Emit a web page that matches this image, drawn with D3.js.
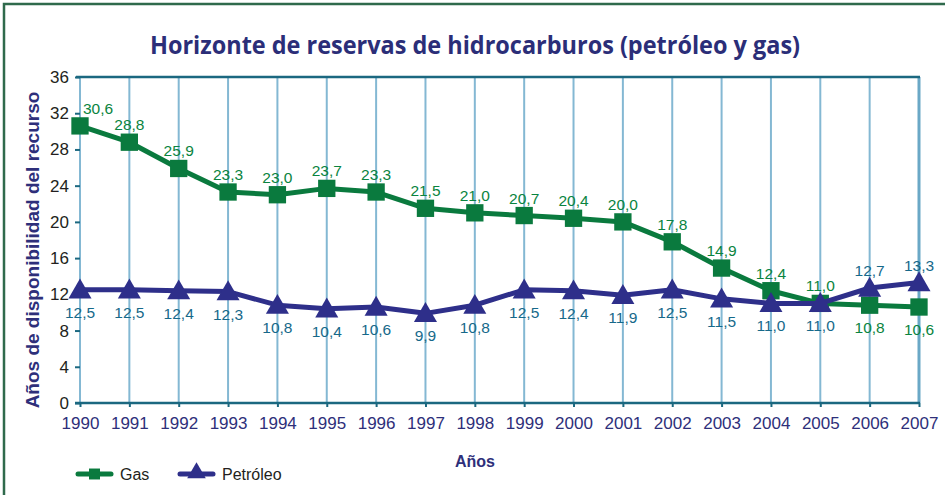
<!DOCTYPE html>
<html>
<head>
<meta charset="utf-8">
<script src="https://cdn.jsdelivr.net/npm/d3@7"></script>
<style>
  body { margin: 0; background: #fff; }
  svg { display: block; font-family: "Liberation Sans", Arial, sans-serif; }
</style>
</head>
<body>
<div class="chart"></div>
<script>
// data
let years = [1990, 1991, 1992, 1993, 1994, 1995, 1996, 1997, 1998, 1999, 2000, 2001, 2002, 2003, 2004, 2005, 2006, 2007];
let gasValues = [30.6, 28.8, 25.9, 23.3, 23.0, 23.7, 23.3, 21.5, 21.0, 20.7, 20.4, 20.0, 17.8, 14.9, 12.4, 11.0, 10.8, 10.6];
let petroleoValues = [12.5, 12.5, 12.4, 12.3, 10.8, 10.4, 10.6, 9.9, 10.8, 12.5, 12.4, 11.9, 12.5, 11.5, 11.0, 11.0, 12.7, 13.3];
let yTicks = [0, 4, 8, 12, 16, 20, 24, 28, 32, 36];

let chart = {};
chart.width = 945;
chart.height = 495;

let fmt = v => d3.format(".1f")(v).replace(".", ",");

let svg = d3.select(".chart").append("svg")
    .attr("width", chart.width)
    .attr("height", chart.height);

// frame (only top and left edges show)
svg.append("rect")
    .attr("x", 4).attr("y", 4)
    .attr("width", 1000).attr("height", 600)
    .attr("fill", "none")
    .attr("stroke", "#2f6a4c")
    .attr("stroke-width", 2.5);

// condensed bold title, squeezed to the reference width
svg.append("text")
    .attr("x", 150).attr("y", 54)
    .attr("font-family", "'Open Sans', sans-serif")
    .attr("font-weight", "bold")
    .attr("font-size", 25)
    .attr("textLength", 650)
    .attr("lengthAdjust", "spacingAndGlyphs")
    .attr("fill", "#2b2e78")
    .text("Horizonte de reservas de hidrocarburos (petróleo y gas)");

let xScale = d3.scalePoint().domain(years).range([80, 919]);
let yScale = d3.scaleLinear().domain([0, 36]).range([403, 77]);

// vertical grid
svg.append("g").selectAll("line")
    .data(years)
    .enter().append("line")
    .attr("x1", d => xScale(d)).attr("x2", d => xScale(d))
    .attr("y1", yScale(36)).attr("y2", yScale(0))
    .attr("stroke", (d, i) => i === years.length - 1 ? "#6aa8c6" : "#84b8d3")
    .attr("stroke-width", (d, i) => i === years.length - 1 ? 3 : 2);

// top border line
svg.append("line")
    .attr("x1", 76).attr("x2", 920)
    .attr("y1", yScale(36)).attr("y2", yScale(36))
    .attr("stroke", "#1b6880").attr("stroke-width", 2.5);

// y axis (ticks only)
let yAxis = svg.append("g")
    .attr("transform", "translate(80,0)")
    .call(d3.axisLeft(yScale).tickValues(yTicks).tickSize(5).tickPadding(6));
yAxis.select(".domain").remove();
yAxis.selectAll(".tick line").attr("stroke", "#1b6880").attr("stroke-width", 2);
yAxis.selectAll(".tick text")
    .attr("font-size", 17).attr("fill", "#231f20")
    .attr("font-family", "'Liberation Sans', Arial, sans-serif");

// x axis
let xAxis = svg.append("g")
    .attr("transform", `translate(0,${yScale(0)})`)
    .call(d3.axisBottom(xScale).tickSize(4).tickPadding(10));
xAxis.select(".domain")
    .attr("d", "M75,0H920")
    .attr("stroke", "#1b6880").attr("stroke-width", 2.5);
xAxis.selectAll(".tick line").attr("stroke", "#1b6880").attr("stroke-width", 2);
xAxis.selectAll(".tick text")
    .attr("font-size", 17).attr("fill", "#2e2f7a")
    .attr("font-family", "'Liberation Sans', Arial, sans-serif");

// axis titles
svg.append("text")
    .attr("transform", "translate(39,250) rotate(-90)")
    .attr("text-anchor", "middle")
    .attr("font-weight", "bold").attr("font-size", 19)
    .attr("fill", "#2e2f7a")
    .text("Años de disponibilidad del recurso");

svg.append("text")
    .attr("x", 475).attr("y", 467)
    .attr("text-anchor", "middle")
    .attr("font-weight", "bold").attr("font-size", 16)
    .attr("fill", "#2e2f7a")
    .text("Años");

let series = [
    { name: "Gas", values: gasValues, color: "#0a7a3e", labelColor: "#0a8440", symbol: d3.symbolSquare, size: 300 },
    { name: "Petróleo", values: petroleoValues, color: "#2e2f8a", labelColor: "#16698a", symbol: d3.symbolTriangle, size: 230 }
];

let line = d3.line()
    .x((d, i) => xScale(years[i]))
    .y(d => yScale(d));

series.forEach((s, si) => {
    let other = series[1 - si].values;
    let g = svg.append("g");
    g.append("path")
        .attr("d", line(s.values))
        .attr("fill", "none")
        .attr("stroke", s.color)
        .attr("stroke-width", 5)
        .attr("stroke-linejoin", "round");
    g.selectAll("path.mark")
        .data(s.values)
        .enter().append("path")
        .attr("class", "mark")
        .attr("d", d3.symbol().type(s.symbol).size(s.size))
        .attr("transform", (d, i) => `translate(${xScale(years[i])},${yScale(d) + (si === 1 ? 2 : 0)})`)
        .attr("fill", s.color);
    g.selectAll("text")
        .data(s.values)
        .enter().append("text")
        .attr("x", (d, i) => xScale(years[i]) + (i === 0 && si === 0 ? 18 : 0))
        .attr("y", (d, i) => {
            let above = si === 0 ? d >= other[i] : d > other[i];
            return above ? yScale(d) - 12 : yScale(d) + 28;
        })
        .attr("text-anchor", "middle")
        .attr("font-size", 15.5)
        .attr("fill", s.labelColor)
        .text(d => fmt(d));
});

// legend
let legend = svg.append("g").attr("transform", "translate(78,474)");
series.forEach((s, i) => {
    let lg = legend.append("g").attr("transform", `translate(${i * 102},0)`);
    lg.append("line")
        .attr("x1", 0).attr("x2", 33)
        .attr("stroke", s.color).attr("stroke-width", 5).attr("stroke-linecap", "round");
    lg.append("path")
        .attr("d", d3.symbol().type(s.symbol).size(i === 0 ? 120 : 150))
        .attr("transform", `translate(16.5,${i === 1 ? -1 : 0})`)
        .attr("fill", s.color);
    lg.append("text")
        .attr("x", 42).attr("y", 6)
        .attr("font-size", 16).attr("fill", "#231f20")
        .text(s.name);
});
</script>
</body>
</html>
